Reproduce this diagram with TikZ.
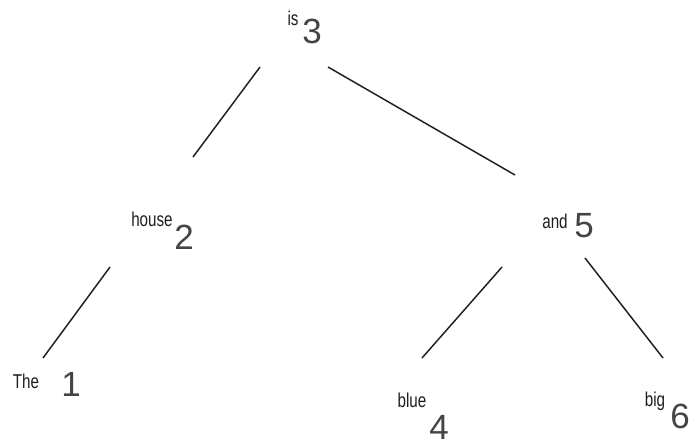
\documentclass[tikz,border=0pt]{standalone}
\usepackage{fontspec}
\setmainfont{Liberation Sans}
\newfontfamily\wordfont[FakeStretch=0.76]{Liberation Sans}
\definecolor{numgrey}{HTML}{444444}
\definecolor{wordblack}{HTML}{1E1E1E}
\definecolor{edgeblack}{HTML}{222222}
\begin{document}
\begin{tikzpicture}[x=1pt, y=-1pt,
    num/.style={font=\fontsize{35}{35}\selectfont, text=numgrey, inner sep=0pt},
    word/.style={font=\wordfont\fontsize{20}{20}\selectfont, text=wordblack, inner sep=0pt},
    edge/.style={draw=edgeblack, line width=1.5pt}]
    \useasboundingbox (0,0) rectangle (692,445);

    % Tree nodes (index + word)
    \node[num] (n3) at (312,31) {3};
    \node[word] (w3) at (293,18) {is};
    \node[num] (n2) at (184,237) {2};
    \node[word] (w2) at (152,219) {house};
    \node[num] (n5) at (584,226) {5};
    \node[word] (w5) at (555,221) {and};
    \node[num] (n1) at (71,384) {1};
    \node[word] (w1) at (26,381) {The};
    \node[num] (n4) at (439,427) {4};
    \node[word] (w4) at (412,400) {blue};
    \node[num] (n6) at (680,416) {6};
    \node[word] (w6) at (655,401) {big};

    % Edge ends
    \coordinate (n3l) at (260,67);
    \coordinate (n3r) at (328,67);
    \coordinate (n2t) at (193,157);
    \coordinate (n2b) at (110,267);
    \coordinate (n5t) at (515,175);
    \coordinate (n5l) at (502,267);
    \coordinate (n5r) at (585,258);
    \coordinate (n1t) at (43,358);
    \coordinate (n4t) at (422,358);
    \coordinate (n6t) at (663,358);

    % Edges
    \draw[edge] (n3l) -- (n2t);
    \draw[edge] (n3r) -- (n5t);
    \draw[edge] (n2b) -- (n1t);
    \draw[edge] (n5l) -- (n4t);
    \draw[edge] (n5r) -- (n6t);
\end{tikzpicture}
\end{document}
